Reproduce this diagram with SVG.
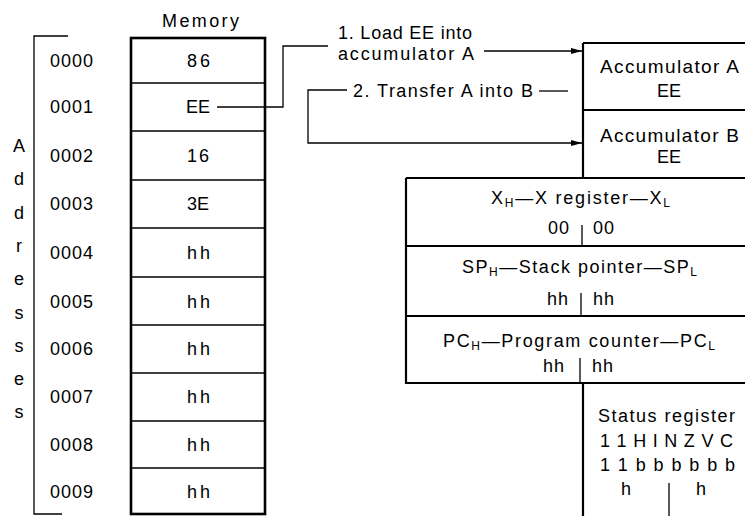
<svg xmlns="http://www.w3.org/2000/svg" width="745" height="516" viewBox="0 0 745 516">
<style>
text{font-family:"Liberation Sans",Arial,Helvetica,sans-serif;font-size:18px;fill:#000}
.mid{text-anchor:middle}
.sub{font-size:12px}
.acc{font-size:19px}
.thick{fill:none;stroke:#000;stroke-width:2.6}
.div{fill:none;stroke:#000;stroke-width:1.6}
.conn{fill:none;stroke:#000;stroke-width:1.3}
.reg{fill:none;stroke:#000;stroke-width:2.2}
</style>
<defs>
<marker id="arr" markerUnits="userSpaceOnUse" markerWidth="12" markerHeight="8" refX="11" refY="4" orient="auto">
<path d="M0,1 L11,4 L0,7 Z" fill="#000"/>
</marker>
</defs>
<rect width="745" height="516" fill="#fff"/>

<g id="address-bracket">
<path class="conn" d="M68,36 H34 V514 H62"/>
<text x="19" y="152" class="mid">A</text>
<text x="19" y="185" class="mid">d</text>
<text x="19" y="219" class="mid">d</text>
<text x="19" y="252" class="mid">r</text>
<text x="19" y="285" class="mid">e</text>
<text x="19" y="319" class="mid">s</text>
<text x="19" y="352" class="mid">s</text>
<text x="19" y="385" class="mid">e</text>
<text x="19" y="418" class="mid">s</text>
</g>

<g id="addresses">
<text x="50" y="67" textLength="43" lengthAdjust="spacing">0000</text>
<text x="50" y="113" textLength="43" lengthAdjust="spacing">0001</text>
<text x="50" y="162" textLength="43" lengthAdjust="spacing">0002</text>
<text x="50" y="210" textLength="43" lengthAdjust="spacing">0003</text>
<text x="50" y="259" textLength="43" lengthAdjust="spacing">0004</text>
<text x="50" y="308" textLength="43" lengthAdjust="spacing">0005</text>
<text x="50" y="355" textLength="43" lengthAdjust="spacing">0006</text>
<text x="50" y="403" textLength="43" lengthAdjust="spacing">0007</text>
<text x="50" y="451" textLength="43" lengthAdjust="spacing">0008</text>
<text x="50" y="498" textLength="43" lengthAdjust="spacing">0009</text>
</g>

<g id="memory">
<text x="162" y="27" textLength="77" lengthAdjust="spacing">Memory</text>
<path class="div" d="M131,83 H265 M131,131 H265 M131,180 H265 M131,228 H265 M131,277 H265 M131,325 H265 M131,373 H265 M131,421 H265 M131,468 H265"/>
<rect class="thick" x="131" y="38" width="134" height="476"/>
<text x="187" y="67" textLength="23" lengthAdjust="spacing">86</text>
<text x="198" y="113" class="mid">EE</text>
<text x="187" y="162" textLength="22" lengthAdjust="spacing">16</text>
<text x="187" y="210" textLength="22" lengthAdjust="spacing">3E</text>
<text x="187" y="259" textLength="23" lengthAdjust="spacing">hh</text>
<text x="187" y="308" textLength="23" lengthAdjust="spacing">hh</text>
<text x="187" y="355" textLength="23" lengthAdjust="spacing">hh</text>
<text x="187" y="403" textLength="23" lengthAdjust="spacing">hh</text>
<text x="187" y="451" textLength="23" lengthAdjust="spacing">hh</text>
<text x="187" y="498" textLength="23" lengthAdjust="spacing">hh</text>
</g>

<g id="connectors">
<path class="conn" d="M217,107 H283 V46 H328"/>
<path class="conn" d="M484,51 H582" marker-end="url(#arr)"/>
<path class="conn" d="M568,91 H539"/>
<path class="conn" d="M347,90 H308 V143 H582" marker-end="url(#arr)"/>
<text x="338" y="39" textLength="134" lengthAdjust="spacing">1. Load EE into</text>
<text x="338" y="60" textLength="136" lengthAdjust="spacing">accumulator A</text>
<text x="353" y="97" textLength="180" lengthAdjust="spacing">2. Transfer A into B</text>
</g>

<g id="accumulator-a">
<path class="reg" d="M583,43 H745 M583,43 V110"/>
<text x="600" y="73" class="acc" textLength="139" lengthAdjust="spacing">Accumulator A</text>
<text x="669" y="97" class="mid" style="font-size:18px">EE</text>
</g>

<g id="accumulator-b">
<path class="reg" d="M583,110 H745 M583,110 V178"/>
<text x="600" y="142" class="acc" textLength="139" lengthAdjust="spacing">Accumulator B</text>
<text x="669" y="163" class="mid" style="font-size:18px">EE</text>
</g>

<g id="x-register">
<path class="reg" d="M406,178 H745 M406,178 V246"/>
<path class="conn" d="M582,225 V246"/>
<text x="491" y="204" textLength="179" lengthAdjust="spacing">X<tspan class="sub" dy="3">H</tspan><tspan dy="-3">—X register—X</tspan><tspan class="sub" dy="3">L</tspan></text>
<text x="548" y="234" textLength="21" lengthAdjust="spacing">00</text>
<text x="593" y="234" textLength="21" lengthAdjust="spacing">00</text>
</g>

<g id="stack-pointer">
<path class="reg" d="M406,246 H745 M406,246 V316"/>
<path class="conn" d="M581,293 V316"/>
<text x="462" y="273" textLength="235" lengthAdjust="spacing">SP<tspan class="sub" dy="3">H</tspan><tspan dy="-3">—Stack pointer—SP</tspan><tspan class="sub" dy="3">L</tspan></text>
<text x="547" y="305" textLength="21" lengthAdjust="spacing">hh</text>
<text x="593" y="305" textLength="21" lengthAdjust="spacing">hh</text>
</g>

<g id="program-counter">
<path class="reg" d="M406,316 H745 M406,316 V383 H745"/>
<path class="conn" d="M580,358 V383"/>
<text x="443" y="347" textLength="272" lengthAdjust="spacing">PC<tspan class="sub" dy="3">H</tspan><tspan dy="-3">—Program counter—PC</tspan><tspan class="sub" dy="3">L</tspan></text>
<text x="543" y="372" textLength="21" lengthAdjust="spacing">hh</text>
<text x="592" y="372" textLength="21" lengthAdjust="spacing">hh</text>
</g>

<g id="status-register">
<path class="reg" d="M583,383 V516"/>
<path class="conn" d="M669,483 V516"/>
<text x="598" y="422" textLength="137" lengthAdjust="spacing">Status register</text>
<text x="600" y="447" textLength="133" lengthAdjust="spacing">1 1 H I N Z V C</text>
<text x="600" y="471" textLength="135" lengthAdjust="spacing">1 1 b b b b b b</text>
<text x="626" y="495" class="mid">h</text>
<text x="701" y="495" class="mid">h</text>
</g>
</svg>
